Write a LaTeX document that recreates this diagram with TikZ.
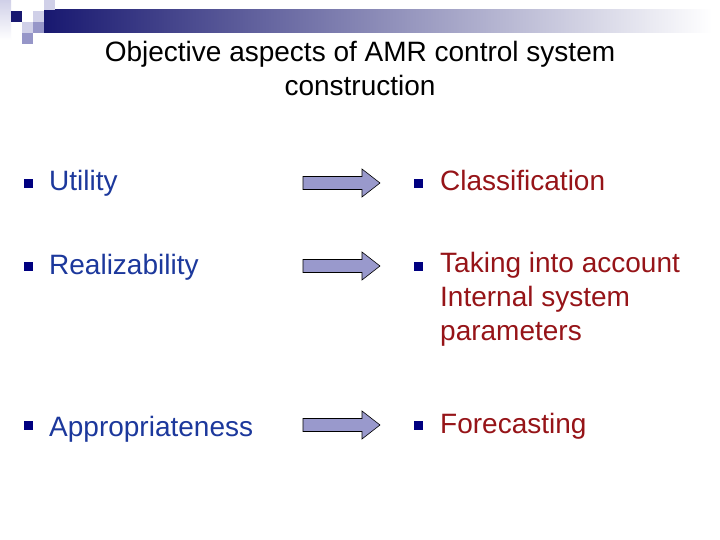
\documentclass[tikz,border=0pt]{standalone}
\usepackage{fontspec}
\setmainfont{Liberation Sans}
\usepackage{tikz}
\usepackage{xcolor}

\definecolor{hdrnavy}{RGB}{24,24,112}
\definecolor{hdrmid}{RGB}{150,150,185}
\definecolor{sqlight}{RGB}{208,208,232}
\definecolor{sqmid}{RGB}{150,150,200}
\definecolor{bulletnavy}{RGB}{0,0,128}
\definecolor{itemblue}{RGB}{28,56,156}
\definecolor{itemred}{RGB}{150,20,24}
\definecolor{arrowfill}{RGB}{153,153,204}

\tikzset{
  slidefont/.style={font=\fontsize{28}{33.6}\selectfont},
  bulletsq/.style={fill=bulletnavy,minimum size=9pt,inner sep=0pt},
  leftitem/.style={slidefont,text=itemblue,inner sep=0pt,anchor=base west},
  rightitem/.style={slidefont,text=itemred,inner sep=0pt,anchor=base west,align=left},
  blockarrow/.style={fill=arrowfill,draw=black,line width=0.6pt,line join=miter}
}

\begin{document}
\begin{tikzpicture}[x=1pt,y=-1pt]
\useasboundingbox (0,0) rectangle (720,540);
\fill[white] (0,0) rectangle (720,540);
% header bar and corner squares
\shade[left color=hdrnavy,middle color=hdrmid,right color=white] (44,10) rectangle (712,33);
\shade[top color=sqlight,bottom color=white] (0,0) rectangle (11,40);
\fill[hdrnavy] (11,11) rectangle (22,22);
\fill[sqlight] (33,11) rectangle (44,22);
\fill[sqlight] (44,0) rectangle (55,10);
\fill[sqlight] (22,22) rectangle (33,33);
\fill[sqmid] (33,22) rectangle (44,33);
\fill[sqmid] (22,33) rectangle (33,44);
% title
\node[slidefont,inner sep=0pt,anchor=base] (title1) at (360,62) {Objective aspects of AMR control system};
\node[slidefont,inner sep=0pt,anchor=base] (title2) at (360,96) {construction};
% left column
\node[bulletsq] (bl1) at (28,184) {};
\node[leftitem] (util) at (49,191) {Utility};
\node[bulletsq] (bl2) at (28,266) {};
\node[leftitem] (realiz) at (49,274) {Realizability};
\node[bulletsq] (bl3) at (28,425) {};
\node[leftitem] (approp) at (49,436) {Appropriateness};
% right column
\node[bulletsq] (br1) at (418,184) {};
\node[rightitem] (classif) at (440,191) {Classification};
\node[bulletsq] (br2) at (418,266) {};
\node[rightitem] (internal) at (440,340) {Taking into account\\Internal system\\parameters};
\node[bulletsq] (br3) at (418,425) {};
\node[rightitem] (forecast) at (440,433) {Forecasting};
% arrows
\foreach \y/\n in {183/1,266/2,425/3}{
  \coordinate (arr\n) at (303,\y);
  \draw[blockarrow] (arr\n) ++(0,-6.5) -- ++(59,0) -- ++(0,-7.5) -- ++(18,14) -- ++(-18,14) -- ++(0,-7.5) -- ++(-59,0) -- cycle;
}
\end{tikzpicture}
\end{document}
